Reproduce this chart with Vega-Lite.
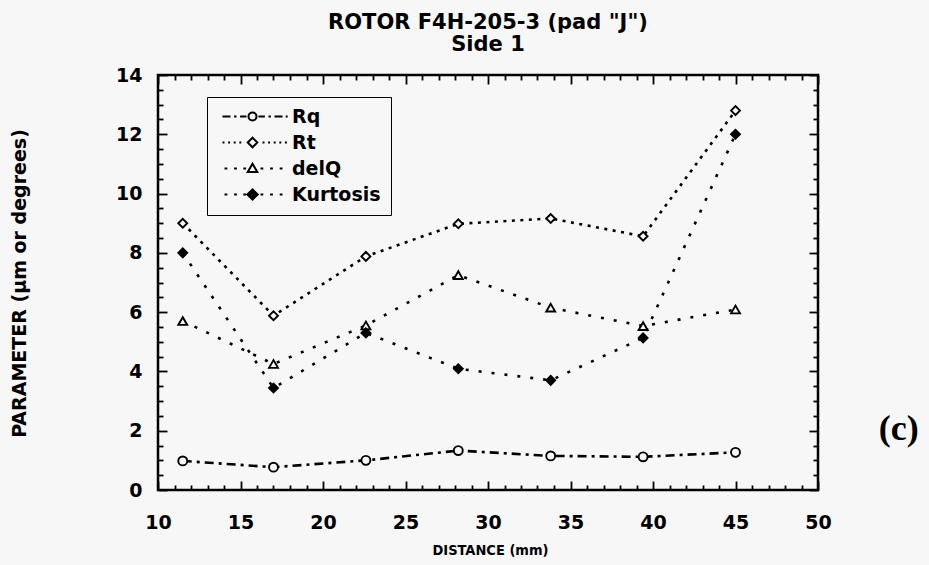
{
  "$schema": "https://vega.github.io/schema/vega-lite/v6.json",
  "width": 660,
  "height": 415,
  "autosize": "none",
  "padding": {"left": 158, "top": 75, "right": 111, "bottom": 75},
  "background": "#f7f7f7",
  "config": {
    "view": {"stroke": "#000", "strokeWidth": 2.5},
    "font": "DejaVu Sans"
  },
  "title": {
    "text": ["ROTOR F4H-205-3 (pad \"J\")", "Side 1"],
    "anchor": "middle",
    "frame": "group",
    "font": "DejaVu Sans",
    "fontWeight": "bold",
    "fontSize": 21,
    "lineHeight": 22,
    "color": "#000",
    "offset": 11
  },
  "data": {
    "values": [
      {"d": 11.5, "s": "Rq", "v": 0.98},
      {"d": 17.0, "s": "Rq", "v": 0.77},
      {"d": 22.6, "s": "Rq", "v": 1.0},
      {"d": 28.2, "s": "Rq", "v": 1.33},
      {"d": 33.8, "s": "Rq", "v": 1.15},
      {"d": 39.4, "s": "Rq", "v": 1.12},
      {"d": 45.0, "s": "Rq", "v": 1.27},
      {"d": 11.5, "s": "Rt", "v": 9.0},
      {"d": 17.0, "s": "Rt", "v": 5.88},
      {"d": 22.6, "s": "Rt", "v": 7.88},
      {"d": 28.2, "s": "Rt", "v": 8.98},
      {"d": 33.8, "s": "Rt", "v": 9.16},
      {"d": 39.4, "s": "Rt", "v": 8.56},
      {"d": 45.0, "s": "Rt", "v": 12.8},
      {"d": 11.5, "s": "delQ", "v": 5.7},
      {"d": 17.0, "s": "delQ", "v": 4.25},
      {"d": 22.6, "s": "delQ", "v": 5.55},
      {"d": 28.2, "s": "delQ", "v": 7.25},
      {"d": 33.8, "s": "delQ", "v": 6.15},
      {"d": 39.4, "s": "delQ", "v": 5.53},
      {"d": 45.0, "s": "delQ", "v": 6.09},
      {"d": 11.5, "s": "Kurtosis", "v": 8.0},
      {"d": 17.0, "s": "Kurtosis", "v": 3.44},
      {"d": 22.6, "s": "Kurtosis", "v": 5.3},
      {"d": 28.2, "s": "Kurtosis", "v": 4.09},
      {"d": 33.8, "s": "Kurtosis", "v": 3.7},
      {"d": 39.4, "s": "Kurtosis", "v": 5.13},
      {"d": 45.0, "s": "Kurtosis", "v": 12.0}
    ]
  },
  "resolve": {"axis": {"x": "independent", "y": "independent"}, "scale": {"shape": "independent"}},
  "layer": [
    {
      "mark": {"type": "line", "color": "#000", "strokeWidth": 2.6},
      "encoding": {
        "x": {
          "field": "d", "type": "quantitative",
          "scale": {"domain": [10, 50], "nice": false, "zero": false},
          "axis": {
            "orient": "bottom", "values": [10, 15, 20, 25, 30, 35, 40, 45, 50],
            "ticks": false, "tickSize": 0, "domain": false, "grid": false,
            "labelFlush": false, "labelOverlap": false,
            "labelFont": "DejaVu Sans", "labelFontWeight": "bold", "labelFontSize": 19, "labelColor": "#000",
            "labelPadding": 23,
            "title": "DISTANCE (mm)",
            "titleFont": "'DejaVu Sans Condensed', 'Liberation Sans', sans-serif", "titleFontWeight": "bold", "titleFontSize": 14.5, "titleColor": "#000",
            "titleX": 332, "titleY": 60, "titleAlign": "center", "titleBaseline": "middle"
          }
        },
        "y": {
          "field": "v", "type": "quantitative",
          "scale": {"domain": [0, 14], "nice": false, "zero": false},
          "axis": {
            "orient": "left", "values": [0, 2, 4, 6, 8, 10, 12, 14],
            "ticks": false, "tickSize": 0, "domain": false, "grid": false,
            "labelFlush": false, "labelOverlap": false,
            "labelFont": "DejaVu Sans", "labelFontWeight": "bold", "labelFontSize": 19, "labelColor": "#000",
            "labelPadding": 16,
            "title": "PARAMETER (µm or degrees)",
            "titleFont": "DejaVu Sans", "titleFontWeight": "bold", "titleFontSize": 19, "titleColor": "#000",
            "titleAngle": -90, "titleX": -139, "titleY": 208, "titleAlign": "center", "titleBaseline": "middle"
          }
        },
        "strokeDash": {
          "field": "s", "type": "nominal",
          "scale": {"domain": ["Kurtosis", "delQ", "Rt", "Rq"], "range": [[3, 10], [3, 10], [3, 5.5], [9, 5, 3, 5]]},
          "legend": null
        }
      }
    },
    {
      "mark": {"type": "point", "filled": true, "size": 80, "stroke": "#000", "strokeWidth": 1.9, "opacity": 1},
      "encoding": {
        "x": {
          "field": "d", "type": "quantitative",
          "axis": {
            "orient": "bottom",
            "values": [10,11,12,13,14,15,16,17,18,19,20,21,22,23,24,25,26,27,28,29,30,31,32,33,34,35,36,37,38,39,40,41,42,43,44,45,46,47,48,49,50],
            "labels": false, "domain": false, "grid": false, "title": null,
            "tickColor": "#000", "tickWidth": 1.8,
            "tickSize": {"condition": {"test": "datum.value % 5 === 0", "value": -9}, "value": -5}
          }
        },
        "y": {
          "field": "v", "type": "quantitative",
          "axis": {
            "orient": "left",
            "values": [0,0.5,1,1.5,2,2.5,3,3.5,4,4.5,5,5.5,6,6.5,7,7.5,8,8.5,9,9.5,10,10.5,11,11.5,12,12.5,13,13.5,14],
            "labels": false, "domain": false, "grid": false, "title": null,
            "tickColor": "#000", "tickWidth": 1.8,
            "tickSize": {"condition": {"test": "datum.value % 2 === 0", "value": -9}, "value": -5}
          }
        },
        "shape": {
          "field": "s", "type": "nominal",
          "scale": {"domain": ["Kurtosis", "delQ", "Rt", "Rq"], "range": ["diamond", "triangle-up", "diamond", "circle"]},
          "legend": null
        },
        "fill": {
          "field": "s", "type": "nominal",
          "scale": {"domain": ["Kurtosis", "delQ", "Rt", "Rq"], "range": ["#000", "#f7f7f7", "#f7f7f7", "#f7f7f7"]},
          "legend": null
        }
      }
    },
    {
      "mark": {"type": "point", "filled": false, "opacity": 0, "color": "#000", "strokeWidth": 2},
      "encoding": {
        "x": {"field": "d", "type": "quantitative", "axis": null},
        "y": {"field": "v", "type": "quantitative", "axis": null},
        "shape": {
          "field": "s", "type": "nominal",
          "scale": {
            "domain": ["Rq", "Rt", "delQ", "Kurtosis"],
            "range": [
              "M-7.5,0L-5.5,0M-4.6,0L-4,0M-3.1,0L-1.5,0M-1,0A1,1 0 1,0 1,0A1,1 0 1,0 -1,0M1.5,0L3.1,0M4,0L4.6,0M5.5,0L7.5,0M8.3,0L8.8,0",
              "M-7.5,0L-7,0M-6.1,0L-5.6,0M-4.7,0L-4.2,0M-3.3,0L-2.8,0M-1.2,0L0,-1.2L1.2,0L0,1.2ZM2.5,0L3,0M3.9,0L4.4,0M5.3,0L5.8,0M6.7,0L7.2,0M8.1,0L8.6,0",
              "M-7,0L-6.3,0M-4.6,0L-3.9,0M-2.3,0L-1.6,0M0,-1.2L1.2,0.9L-1.2,0.9ZM2,0L2.7,0M4.4,0L5.1,0M6.8,0L7.5,0",
              "M-7,0L-6.3,0M-4.6,0L-3.9,0M-2.3,0L-1.6,0M0,-1.3L1.3,0L0,1.3L-1.3,0ZM0,-0.85L0.85,0L0,0.85L-0.85,0ZM0,-0.4L0.4,0L0,0.4L-0.4,0ZM2,0L2.7,0M4.4,0L5.1,0M6.8,0L7.5,0"
            ]
          },
          "legend": {
            "orient": "none", "legendX": 49, "legendY": 22, "title": null,
            "padding": 10, "strokeColor": "#000", "fillColor": "#f7f7f7",
            "symbolSize": 64, "symbolOffset": 26, "labelOffset": 30, "rowPadding": 6,
            "symbolStrokeWidth": 2, "symbolStrokeColor": "#000", "symbolFillColor": "transparent", "symbolOpacity": 1,
            "labelFont": "DejaVu Sans", "labelFontWeight": "bold", "labelFontSize": 19, "labelColor": "#000"
          }
        }
      }
    },
    {
      "mark": {"type": "point", "opacity": 0},
      "encoding": {
        "x": {
          "field": "d", "type": "quantitative",
          "axis": {
            "orient": "top",
            "values": [10,11,12,13,14,15,16,17,18,19,20,21,22,23,24,25,26,27,28,29,30,31,32,33,34,35,36,37,38,39,40,41,42,43,44,45,46,47,48,49,50],
            "labels": false, "domain": false, "grid": false, "title": null,
            "tickColor": "#000", "tickWidth": 1.8,
            "tickSize": {"condition": {"test": "datum.value % 5 === 0", "value": -9}, "value": -5}
          }
        },
        "y": {
          "field": "v", "type": "quantitative",
          "axis": {
            "orient": "right",
            "values": [0,0.5,1,1.5,2,2.5,3,3.5,4,4.5,5,5.5,6,6.5,7,7.5,8,8.5,9,9.5,10,10.5,11,11.5,12,12.5,13,13.5,14],
            "labels": false, "domain": false, "grid": false, "title": null,
            "tickColor": "#000", "tickWidth": 1.8,
            "tickSize": {"condition": {"test": "datum.value % 2 === 0", "value": -9}, "value": -5}
          }
        }
      }
    },
    {
      "data": {"values": [{"label": "(c)"}]},
      "mark": {"type": "text", "font": "Liberation Serif", "fontWeight": "bold", "fontSize": 36, "color": "#000", "align": "center", "baseline": "middle"},
      "encoding": {
        "x": {"datum": 54.9, "type": "quantitative", "axis": null},
        "y": {"datum": 2.05, "type": "quantitative", "axis": null},
        "text": {"field": "label"}
      }
    }
  ]
}
